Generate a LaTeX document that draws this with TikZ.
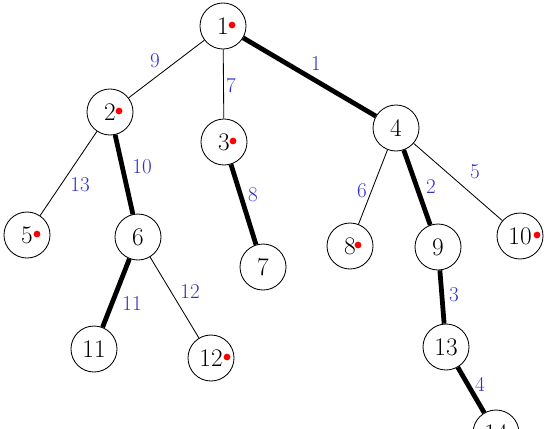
\documentclass[tikz,border=0pt]{standalone}
\usetikzlibrary{positioning, calc}
\definecolor{wblue}{RGB}{48,48,200}

\begin{document}
\begin{tikzpicture}[x=0.025cm, y=-0.025cm]
	\tikzset{
		vertex/.style={circle, draw, fill=white, minimum size=1.15cm, inner sep=0pt, line width=0.6pt, font=\fontsize{18}{20}\selectfont},
		weight/.style={text=wblue, inner sep=0pt, font=\fontsize{15}{17}\selectfont},
		light/.style={line width=0.6pt},
		heavy/.style={line width=3.4pt}
	}
	\clip (0,0) rectangle (556,428);
	\foreach \n/\x/\y in {1/223/26, 2/110/112, 3/224/142, 4/396/128, 5/27/235, 6/138/237, 7/263/267,
		8/350/246, 9/438/247, 10/520/236, 11/94/349, 12/211/358, 13/446/347, 14/496/433} {
		\node[vertex] (v\n) at (\x,\y) {\n};
	}
	\foreach \a/\b in {1/2, 1/3, 2/5, 4/8, 4/10, 6/12}
		\draw[light] (v\a) -- (v\b);
	\foreach \a/\b in {1/4, 2/6, 3/7, 4/9, 6/11, 9/13, 13/14}
		\draw[heavy] (v\a) -- (v\b);
	% edge weights
	\foreach \a/\b/\w/\x/\y in {1/2/9/155/61, 1/3/7/231/86, 1/4/1/316/64, 2/5/13/80/185, 2/6/10/142/167,
		3/7/8/253/195, 4/8/6/362/191, 4/9/2/431/187, 4/10/5/475/172, 6/11/11/132/304,
		6/12/12/190/292, 9/13/3/454/295, 13/14/4/480/384} {
		\node[weight] (w\a-\b) at (\x,\y) {\w};
	}
	% marked vertices
	\foreach \n/\dx in {1/9, 2/9, 3/9, 5/10, 8/8, 10/17, 12/16}
		\fill[red] ($(v\n)+(\dx,-1)$) circle (2.4pt);
\end{tikzpicture}
\end{document}
